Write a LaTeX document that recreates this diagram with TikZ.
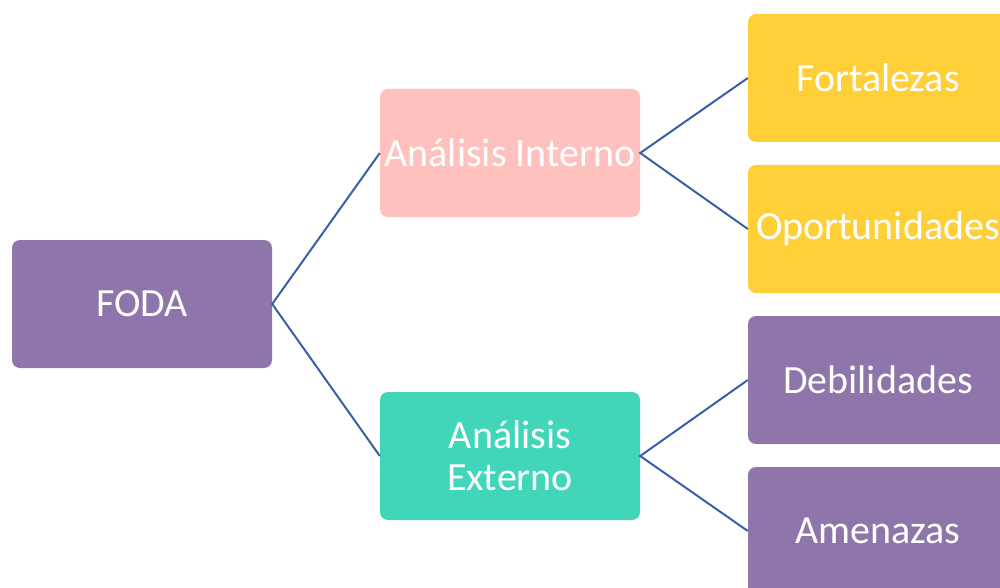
\documentclass[tikz,border=0pt]{standalone}
\usepackage{fontspec}
\setmainfont{Carlito}

\definecolor{morado}{HTML}{8E75AA}
\definecolor{rosa}{HTML}{FFC1BE}
\definecolor{turquesa}{HTML}{41D5B9}
\definecolor{amarillo}{HTML}{FFCF38}
\definecolor{linea}{HTML}{3B5EA8}

\begin{document}
\begin{tikzpicture}[x=1pt, y=-1pt,
    caja/.style={rounded corners=8pt, minimum width=260pt, minimum height=128pt,
                 inner sep=0pt, text=white, align=center,
                 font=\fontsize{40}{42}\selectfont},
    rama/.style={linea, line width=2pt}]
            % Marco
            \useasboundingbox (0,0) rectangle (1000,588);
            \clip (0,0) rectangle (1000,588);

            % Cajas
            \node[caja, fill=morado] (foda) at (142,304) {FODA};
            \node[caja, fill=rosa] (interno) at (510,153) {Análisis Interno};
            \node[caja, fill=turquesa] (externo) at (510,456) {Análisis\\Externo};
            \node[caja, fill=amarillo] (fortalezas) at (878,78) {Fortalezas};
            \node[caja, fill=amarillo] (oportunidades) at (878,229) {Oportunidades};
            \node[caja, fill=morado] (debilidades) at (878,380) {Debilidades};
            \node[caja, fill=morado] (amenazas) at (878,531) {Amenazas};

            % Ramas
            \draw[rama] (interno.west) -- (foda.east) -- (externo.west);
            \draw[rama] (fortalezas.west) -- (interno.east) -- (oportunidades.west);
            \draw[rama] (debilidades.west) -- (externo.east) -- (amenazas.west);
\end{tikzpicture}
\end{document}
